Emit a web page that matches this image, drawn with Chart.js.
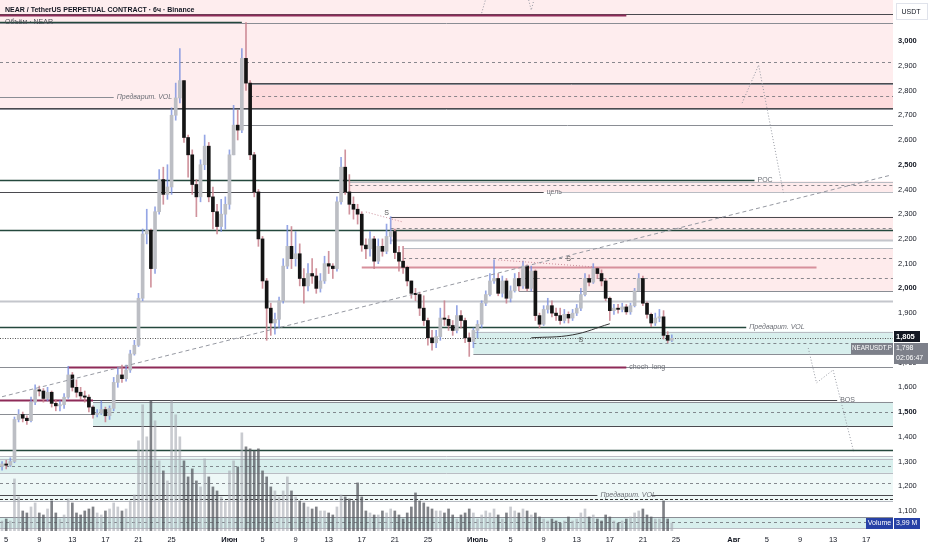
<!DOCTYPE html>
<html>
<head>
<meta charset="utf-8">
<script src="https://cdn.jsdelivr.net/npm/chart.js@4.4.1/dist/chart.umd.min.js"></script>
<style>
  html, body { margin: 0; padding: 0; background: #fff; }
  #wrap { width: 932px; height: 550px; }
</style>
</head>
<body>
<div id="wrap"><canvas id="c" width="932" height="550"></canvas></div>
<script>
// 12h slots starting May 4 12:00
const t0 = Date.UTC(2025, 4, 4, 12);
const HALF_DAY = 12 * 3600 * 1000;
const SLOTS = 216;

const monthNames = ['Янв', 'Фев', 'Мар', 'Апр', 'Май', 'Июн', 'Июль', 'Авг', 'Сен', 'Окт', 'Ноя', 'Дек'];
const tickDays = [5, 9, 13, 17, 21, 25];

const firstOpen = 1.280;
const closes = [
  1.290, 1.285, 1.300, 1.470, 1.490, 1.475, 1.465, 1.540, 1.590, 1.585,
  1.555, 1.580, 1.535, 1.525, 1.530, 1.560, 1.650, 1.600, 1.580, 1.565,
  1.560, 1.520, 1.490, 1.495, 1.510, 1.485, 1.515, 1.620, 1.650, 1.635,
  1.670, 1.735, 1.770, 1.960, 2.220, 2.235, 2.080, 2.310, 2.440, 2.380,
  2.410, 2.700, 2.770, 2.840, 2.610, 2.540, 2.420, 2.370, 2.500, 2.575,
  2.370, 2.310, 2.250, 2.300, 2.340, 2.540, 2.660, 2.640, 2.930, 2.830,
  2.540, 2.390, 2.200, 2.030, 1.920, 1.860, 1.875, 1.950, 2.090, 2.170,
  2.120, 2.140, 2.040, 2.010, 2.060, 2.050, 2.000, 2.030, 2.100, 2.090,
  2.080, 2.350, 2.490, 2.390, 2.340, 2.320, 2.300, 2.175, 2.160, 2.200,
  2.110, 2.170, 2.150, 2.210, 2.230, 2.145, 2.110, 2.085, 2.030, 1.980,
  1.975, 1.920, 1.870, 1.800, 1.780, 1.805, 1.880, 1.875, 1.850, 1.830,
  1.890, 1.870, 1.800, 1.785, 1.830, 1.855, 1.940, 1.975, 2.030, 2.040,
  1.980, 2.030, 1.960, 1.990, 2.040, 2.010, 2.090, 2.000, 2.070, 1.890,
  1.855, 1.915, 1.930, 1.900, 1.890, 1.870, 1.895, 1.880, 1.900, 1.920,
  1.975, 2.040, 2.025, 2.080, 2.060, 2.030, 1.960, 1.910, 1.920, 1.915,
  1.925, 1.905, 1.930, 1.990, 2.040, 1.940, 1.895, 1.860, 1.880, 1.885,
  1.810, 1.790, 1.798
];
const highs = [
  1.300, 1.305, 1.315, 1.480, 1.510, 1.500, 1.485, 1.560, 1.610, 1.605,
  1.595, 1.600, 1.585, 1.550, 1.545, 1.575, 1.685, 1.660, 1.630, 1.600,
  1.585, 1.570, 1.525, 1.510, 1.545, 1.520, 1.525, 1.640, 1.680, 1.690,
  1.690, 1.750, 1.790, 1.980, 2.240, 2.320, 2.240, 2.330, 2.480, 2.490,
  2.500, 2.730, 2.830, 2.970, 2.840, 2.620, 2.560, 2.440, 2.520, 2.620,
  2.590, 2.410, 2.340, 2.360, 2.370, 2.560, 2.740, 2.720, 2.970, 3.075,
  2.840, 2.550, 2.400, 2.210, 2.040, 1.940, 1.900, 1.965, 2.120, 2.255,
  2.250, 2.230, 2.180, 2.080, 2.100, 2.120, 2.080, 2.060, 2.130, 2.150,
  2.100, 2.370, 2.530, 2.560, 2.460, 2.370, 2.340, 2.310, 2.200, 2.230,
  2.210, 2.200, 2.200, 2.260, 2.290, 2.240, 2.170, 2.170, 2.090, 2.030,
  2.000, 1.985, 1.970, 1.880, 1.830, 1.830, 1.920, 1.950, 1.890, 1.870,
  1.930, 1.910, 1.880, 1.820, 1.840, 1.870, 1.950, 1.990, 2.060, 2.115,
  2.060, 2.050, 2.040, 2.010, 2.060, 2.065, 2.110, 2.095, 2.090, 2.075,
  1.900, 1.930, 1.960, 1.950, 1.920, 1.920, 1.915, 1.905, 1.915, 1.935,
  2.000, 2.060, 2.055, 2.100, 2.085, 2.075, 2.040, 1.965, 1.935, 1.935,
  1.940, 1.935, 1.940, 2.000, 2.060, 2.050, 1.945, 1.900, 1.900, 1.915,
  1.910, 1.825, 1.812
];
const lows = [
  1.265, 1.270, 1.280, 1.295, 1.460, 1.460, 1.450, 1.460, 1.530, 1.565,
  1.540, 1.545, 1.520, 1.505, 1.505, 1.515, 1.555, 1.585, 1.560, 1.550,
  1.540, 1.500, 1.475, 1.480, 1.490, 1.460, 1.470, 1.505, 1.600, 1.620,
  1.625, 1.660, 1.730, 1.765, 1.950, 2.180, 2.005, 2.060, 2.300, 2.340,
  2.360, 2.380, 2.680, 2.750, 2.590, 2.450, 2.380, 2.290, 2.350, 2.480,
  2.350, 2.240, 2.220, 2.230, 2.240, 2.320, 2.540, 2.600, 2.630, 2.800,
  2.520, 2.370, 2.170, 2.000, 1.790, 1.810, 1.815, 1.840, 1.940, 2.080,
  2.080, 2.090, 2.010, 1.940, 1.990, 2.020, 1.980, 1.985, 2.020, 2.060,
  2.040, 2.070, 2.340, 2.380, 2.300, 2.280, 2.260, 2.150, 2.120, 2.130,
  2.080, 2.100, 2.130, 2.140, 2.180, 2.120, 2.070, 2.060, 2.010, 1.960,
  1.950, 1.890, 1.850, 1.770, 1.750, 1.760, 1.790, 1.850, 1.830, 1.810,
  1.820, 1.840, 1.780, 1.725, 1.760, 1.800, 1.840, 1.930, 1.970, 2.020,
  1.970, 1.965, 1.940, 1.945, 1.985, 1.990, 2.000, 1.990, 1.990, 1.870,
  1.840, 1.850, 1.900, 1.885, 1.870, 1.855, 1.860, 1.860, 1.870, 1.890,
  1.910, 1.970, 2.010, 2.020, 2.040, 2.010, 1.950, 1.870, 1.895, 1.900,
  1.905, 1.895, 1.895, 1.925, 1.990, 1.930, 1.880, 1.845, 1.850, 1.865,
  1.795, 1.780, 1.785
];
// volume, millions
const volumes = [
  5, 6, 5, 26, 17, 10, 9, 12, 14, 9,
  8, 11, 15, 9, 6, 8, 16, 14, 9, 8,
  10, 11, 12, 9, 8, 10, 11, 14, 12, 10,
  11, 15, 18, 45, 63, 47, 65, 55, 35, 30,
  25, 65, 58, 47, 35, 27, 31, 25, 22, 36,
  27, 22, 20, 17, 15, 30, 35, 32, 49, 42,
  41, 40, 41, 30, 27, 22, 20, 17, 20, 27,
  20, 17, 15, 14, 12, 11, 12, 10, 10, 9,
  8, 12, 18, 17, 16, 15, 24, 17, 10, 9,
  8, 8, 10, 9, 11, 10, 8, 6, 9, 12,
  19, 15, 14, 12, 11, 10, 10, 9, 11, 8,
  6, 8, 9, 11, 9, 6, 8, 10, 9, 11,
  8, 6, 9, 12, 10, 9, 11, 10, 8, 9,
  7, 6, 5, 6, 5, 4, 5, 7, 5, 6,
  9, 11, 7, 8, 6, 5, 8, 7, 5, 4,
  5, 6, 7, 9, 10, 11, 8, 7, 6, 6,
  15, 6, 3.99
];

// drawn levels: [price, fromSlot, toSlot, kind]  (null = chart edge)
const levelLines = [
  [3.110, null, null, 'dark'],
  [3.106, null, 151, 'maroon'],
  [3.078, null, 58, 'green'],
  [3.072, null, null, 'gray'],
  [2.915, null, null, 'dash'],
  [2.832, 60, null, 'dark'],
  [2.826, 60, null, 'gray'],
  [2.778, 60, null, 'dash'],
  [2.774, null, 27, 'gray'],
  [2.730, null, null, 'dark'],
  [2.724, null, null, 'gray'],
  [2.660, 58, null, 'gray'],
  [2.437, null, 182, 'green'],
  [2.431, 84, null, 'light'],
  [2.416, 84, null, 'dash'],
  [2.390, null, 131, 'dark'],
  [2.390, 135, null, 'light'],
  [2.290, 94, null, 'dark'],
  [2.244, 94, null, 'dash'],
  [2.236, null, null, 'green'],
  [2.195, 94, null, 'thick'],
  [2.163, 97, null, 'light'],
  [2.123, 97, null, 'dash'],
  [2.087, 87, 197, 'pinkline'],
  [2.042, 125, null, 'dash'],
  [1.990, 125, null, 'gray'],
  [1.950, null, null, 'thick'],
  [1.845, null, 180, 'green'],
  [1.825, 114, null, 'light'],
  [1.798, null, null, 'dot'],
  [1.780, 114, null, 'dash'],
  [1.735, 114, null, 'gray'],
  [1.682, null, null, 'gray'],
  [1.682, 16, 151, 'maroon'],
  [1.548, null, 22, 'maroon'],
  [1.548, 22, 202, 'dark'],
  [1.541, 22, null, 'gray'],
  [1.500, 22, null, 'dash'],
  [1.492, null, 22, 'gray'],
  [1.444, 22, null, 'dark'],
  [1.345, null, null, 'green'],
  [1.322, null, null, 'light'],
  [1.312, null, null, 'light'],
  [1.282, null, null, 'dash'],
  [1.254, null, null, 'light'],
  [1.213, null, null, 'dash'],
  [1.165, null, 144, 'dark'],
  [1.165, 157, null, 'dark'],
  [1.149, null, null, 'dashDark'],
  [1.142, null, null, 'light'],
  [1.075, null, null, 'gray'],
  [1.055, null, null, 'dash'],
  [1.030, null, null, 'light']
];
// zones: [fromSlot, top, bottom]
const pinkZones = [
  [null, 3.200, 2.727],
  [60, 2.830, 2.727],
  [84, 2.433, 2.390],
  [94, 2.290, 2.195],
  [97, 2.163, 2.087],
  [125, 2.087, 1.990]
];
const tealZones = [
  [114, 1.825, 1.735],
  [22, 1.541, 1.444],
  [null, 1.312, 1.254],
  [null, 1.075, 1.030]
];
const paleTealZones = [
  [null, 1.322, 1.312],
  [null, 1.254, 1.142]
];
const lineLabels = [
  ['Предварит. VOL', 27, 2.774, true],
  ['POC', 182, 2.437, false],
  ['цель', 131, 2.390, false],
  ['Предварит. VOL', 180, 1.845, true],
  ['choch  long', 151, 1.682, false],
  ['BOS', 202, 1.548, false],
  ['Предварит. VOL', 144, 1.165, true]
];
const marks = [['S', 93, 2.305], ['S', 137, 2.118], ['S', 140, 1.790]];

// trend & projection drawings: [slot, price]
const trendLine = [[0, 1.562], [215, 2.458]];
const projTop = [[116, 3.113], [118, 3.230]];
const projTopV = [[127, 3.190], [128, 3.125], [129, 3.190]];
const projUp = [[179, 2.749], [183, 2.903], [189, 2.386]];
const projDown = [[195, 1.759], [197, 1.618], [201, 1.670], [206, 1.339]];
const highsDotA = [[88, 2.309], [97, 2.268]];
const highsDotB = [[120, 2.115], [143, 2.087]];
const arcLine = [[128, 1.800], [138, 1.812], [147, 1.857]];

const lastPrice = 1.805;

// ---- build
const labels = [];
const tickText = [];
for (let i = 0; i < SLOTS; i++) {
  const d = new Date(t0 + i * HALF_DAY);
  labels.push((d.getUTCMonth() + 1) + '/' + d.getUTCDate() + ' ' + d.getUTCHours() + 'h');
  let t = '';
  if (d.getUTCHours() === 0) {
    if (d.getUTCDate() === 1) t = monthNames[d.getUTCMonth()];
    else if (tickDays.includes(d.getUTCDate())) t = String(d.getUTCDate());
  }
  tickText.push(t);
}

const opens = closes.map((c, i) => i === 0 ? firstOpen : closes[i - 1]);
const isUp = closes.map((c, i) => c >= opens[i]);
const wickData = highs.map((h, i) => [Math.min(lows[i], opens[i], closes[i]), Math.max(h, opens[i], closes[i])]);
const bodyData = closes.map((c, i) => [Math.min(c, opens[i]), Math.max(c, opens[i])]);

const pts = arr => arr.map(([s, p]) => ({ x: labels[s], y: p }));
const fmt = v => v.toFixed(3).replace('.', ',');

const lineStyles = {
  dark: { c: '#4a4a4f', w: 1.2, d: [] },
  green: { c: '#24483d', w: 1.3, d: [] },
  gray: { c: '#8a8d94', w: 1, d: [] },
  light: { c: '#b9bcc3', w: 1, d: [] },
  thick: { c: '#c4c6cc', w: 2, d: [] },
  dash: { c: '#6b6e75', w: 0.8, d: [3, 3] },
  dashDark: { c: '#333', w: 1, d: [3, 2] },
  dot: { c: '#555', w: 1, d: [1, 1.5] },
  maroon: { c: '#8e2b58', w: 2, d: [] },
  pinkline: { c: '#d7909c', w: 2, d: [] }
};

const drawings = {
  id: 'drawings',
  beforeDatasetsDraw(chart) {
    const { ctx, chartArea: a, scales: { x, y } } = chart;
    const px = (s, edge) => s == null ? edge : x.getPixelForValue(s);
    ctx.save();
    ctx.beginPath();
    ctx.rect(a.left, a.top, a.right - a.left, a.bottom - a.top);
    ctx.clip();
    const fillZones = (zones, color) => {
      ctx.fillStyle = color;
      zones.forEach(([from, top, bot]) => {
        const x0 = px(from, a.left);
        const y0 = y.getPixelForValue(top), y1 = y.getPixelForValue(bot);
        ctx.fillRect(x0, y0, a.right - x0, y1 - y0);
      });
    };
    fillZones(pinkZones.slice(0, 1), 'rgba(242,54,69,0.09)');
    fillZones(pinkZones.slice(1), 'rgba(242,54,69,0.10)');
    fillZones(tealZones, 'rgba(38,166,154,0.18)');
    fillZones(paleTealZones, 'rgba(38,166,154,0.08)');

    levelLines.forEach(([p, from, to, kind]) => {
      const st = lineStyles[kind];
      const yy = Math.round(y.getPixelForValue(p)) + 0.5;
      ctx.beginPath();
      ctx.strokeStyle = st.c;
      ctx.lineWidth = st.w;
      ctx.setLineDash(st.d);
      ctx.moveTo(px(from, a.left), yy);
      ctx.lineTo(px(to, a.right), yy);
      ctx.stroke();
    });
    ctx.setLineDash([]);

    ctx.textBaseline = 'middle';
    lineLabels.forEach(([t, s, p, ital]) => {
      ctx.font = (ital ? 'italic ' : '') + '7px "Liberation Sans", Arial, sans-serif';
      ctx.fillStyle = '#6b6e75';
      ctx.textAlign = 'left';
      ctx.fillText(t, x.getPixelForValue(s) + 3, y.getPixelForValue(p));
    });
    ctx.font = '7px "Liberation Sans", Arial, sans-serif';
    ctx.textAlign = 'center';
    marks.forEach(([t, s, p]) => {
      ctx.fillStyle = '#555';
      ctx.fillText(t, x.getPixelForValue(s), y.getPixelForValue(p));
    });
    ctx.restore();
  },
  afterDraw(chart) {
    const { ctx, chartArea: a, scales: { y, vol } } = chart;
    ctx.save();
    ctx.textBaseline = 'middle';
    // title
    ctx.textAlign = 'left';
    ctx.fillStyle = '#131722';
    ctx.font = 'bold 7px "Liberation Sans", Arial, sans-serif';
    ctx.fillText('NEAR / TetherUS PERPETUAL CONTRACT · 6ч · Binance', 5, 10);
    ctx.fillStyle = '#4a4d55';
    ctx.font = '7px "Liberation Sans", Arial, sans-serif';
    ctx.fillText('Объём · NEAR', 5, 22);

    // USDT box
    ctx.fillStyle = '#fff';
    ctx.fillRect(896, 3, 32, 17);
    ctx.strokeStyle = '#e0e3eb';
    ctx.lineWidth = 1;
    ctx.strokeRect(896.5, 3.5, 31, 16);
    ctx.fillStyle = '#131722';
    ctx.font = '7px "Liberation Sans", Arial, sans-serif';
    ctx.textAlign = 'center';
    ctx.fillText('USDT', 911, 12);

    // last price labels
    const yp = Math.round(y.getPixelForValue(lastPrice));
    ctx.fillStyle = '#131722';
    ctx.fillRect(a.right + 1, yp - 6, 26, 11);
    ctx.fillStyle = '#fff';
    ctx.font = 'bold 7.5px "Liberation Sans", Arial, sans-serif';
    ctx.textAlign = 'left';
    ctx.fillText(fmt(lastPrice), a.right + 3, yp);
    ctx.fillStyle = '#7d808a';
    ctx.fillRect(a.right + 1, yp + 6, 34, 21);
    ctx.fillRect(a.right - 42, yp + 6, 42, 11);
    ctx.fillStyle = '#fff';
    ctx.font = '7px "Liberation Sans", Arial, sans-serif';
    ctx.fillText(fmt(closes[closes.length - 1]), a.right + 3, yp + 11.5);
    ctx.fillText('02:06:47', a.right + 3, yp + 21.5);
    ctx.textAlign = 'center';
    ctx.font = '6.3px "Liberation Sans", Arial, sans-serif';
    ctx.fillText('NEARUSDT.P', a.right - 21, yp + 11.5);

    // volume label
    const yv = Math.round(vol.getPixelForValue(volumes[volumes.length - 1]));
    ctx.font = '7px "Liberation Sans", Arial, sans-serif';
    ctx.fillStyle = '#2741a6';
    ctx.fillRect(a.right - 27, yv - 5, 27, 11);
    ctx.fillRect(a.right + 1, yv - 5, 26, 11);
    ctx.fillStyle = '#fff';
    ctx.fillText('Volume', a.right - 13.5, yv + 0.5);
    ctx.textAlign = 'left';
    ctx.fillText(volumes[volumes.length - 1].toFixed(2).replace('.', ',') + ' M', a.right + 3, yv + 0.5);
    ctx.restore();
  }
};

Chart.defaults.font.family = '"Liberation Sans", Arial, sans-serif';
Chart.defaults.color = '#131722';

const thinLine = (data, color, dash, width, order) => ({
  type: 'line',
  data: pts(data),
  borderColor: color,
  borderWidth: width,
  borderDash: dash,
  pointRadius: 0,
  fill: false,
  yAxisID: 'y',
  order: order
});

new Chart(document.getElementById('c'), {
  data: {
    labels: labels,
    datasets: [
      {
        type: 'bar',
        data: volumes,
        yAxisID: 'vol',
        backgroundColor: isUp.map(u => u ? 'rgba(165,168,176,0.6)' : 'rgba(85,88,95,0.75)'),
        barThickness: 2,
        grouped: false,
        order: 6
      },
      {
        type: 'bar',
        data: wickData,
        yAxisID: 'y',
        backgroundColor: isUp.map(u => u ? 'rgba(122,144,222,0.8)' : 'rgba(200,128,140,0.85)'),
        barThickness: 1,
        grouped: false,
        order: 5
      },
      {
        type: 'bar',
        data: bodyData,
        yAxisID: 'y',
        backgroundColor: isUp.map(u => u ? '#bcbec4' : '#141414'),
        barThickness: 3,
        minBarLength: 1,
        grouped: false,
        order: 4
      },
      thinLine(trendLine, '#9598a1', [4, 3], 1, 3),
      thinLine(projTop, '#9598a1', [1, 2], 1, 3),
      thinLine(projTopV, '#9598a1', [1, 2], 1, 3),
      thinLine(projUp, '#9598a1', [1, 2], 1, 3),
      thinLine(projDown, '#9598a1', [1, 2], 1, 3),
      thinLine(highsDotA, '#c98d98', [1, 2], 1, 3),
      thinLine(highsDotB, '#c98d98', [1, 2], 1, 3),
      Object.assign(thinLine(arcLine, '#333', [], 1, 2), { tension: 0.4 })
    ]
  },
  options: {
    responsive: false,
    animation: false,
    events: [],
    layout: { padding: 0 },
    plugins: { legend: { display: false }, tooltip: { enabled: false } },
    scales: {
      x: {
        type: 'category',
        offset: true,
        grid: { display: false, drawTicks: false },
        border: { display: false },
        ticks: {
          autoSkip: false,
          maxRotation: 0,
          padding: 4,
          color: '#131722',
          font: ctx => {
            const t = ctx && ctx.index != null ? (tickText[ctx.index] || '') : '';
            return { size: 7.5, weight: /[А-я]/.test(t) ? 'bold' : 'normal' };
          },
          callback: (v, i) => tickText[i]
        },
        afterFit: s => { s.height = 19; s.paddingLeft = 0; s.paddingRight = 0; }
      },
      y: {
        position: 'right',
        min: 1.019,
        max: 3.166,
        grid: { display: false, drawTicks: false },
        border: { display: false },
        ticks: {
          stepSize: 0.1,
          includeBounds: false,
          padding: 5,
          color: '#131722',
          font: ctx => {
            const v = ctx && ctx.tick ? Math.round(ctx.tick.value * 10) : 1;
            return { size: 7.5, weight: v % 5 === 0 ? 'bold' : 'normal' };
          },
          callback: v => fmt(v)
        },
        afterFit: s => { s.width = 39; s.paddingTop = 0; s.paddingBottom = 0; }
      },
      vol: {
        display: false,
        min: 0,
        max: 265
      }
    }
  },
  plugins: [drawings]
});
</script>
</body>
</html>
